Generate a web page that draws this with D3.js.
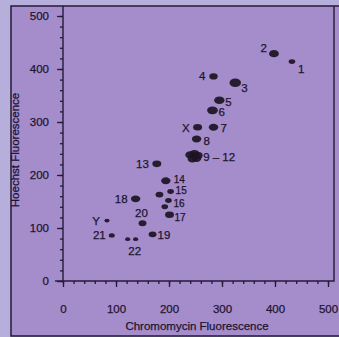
<!DOCTYPE html>
<html>
<head>
<meta charset="utf-8">
<script src="https://cdn.jsdelivr.net/npm/d3@7"></script>
<style>
  html, body { margin: 0; padding: 0; background: #b6afdc; }
  svg { display: block; }
  text { font-family: "Liberation Sans", Arial, sans-serif; fill: #1d1530; stroke: #1d1530; stroke-width: 0.25; }
</style>
</head>
<body>
<div id="viz"></div>
<script>
// flow karyotype peaks: one entry per spot
var peakIds      = ["1", "2", "3", "4", "5", "6", "7", "X", "8",
                    "9-12", "9-12", "9-12", "9-12", "9-12",
                    "13", "14", "15", "15b", "16", "16b", "17", "18",
                    "19", "20", "21", "22", "22b", "Y"];
var chromomycin  = [432, 398, 325, 284, 295, 282, 284, 254, 252,
                    240, 248, 244, 252, 255,
                    177, 194, 203, 182, 199, 192, 201, 137,
                    169, 150, 92, 122, 137, 83];
var hoechst      = [414, 429, 374, 386, 341, 322, 290, 290, 268,
                    238, 240, 230, 231, 237,
                    221, 189, 169, 163, 152, 140, 125, 155,
                    88, 109, 86, 79, 79, 114];
var counts       = [10, 22, 30, 16, 24, 26, 20, 18, 20,
                    22, 24, 20, 20, 18,
                    18, 20, 10, 14, 10, 10, 18, 20,
                    14, 14, 8, 6, 6, 6];

var labelNames = ["1", "2", "3", "4", "5", "6", "7", "X", "8", "9-12",
                  "13", "14", "15", "16", "17", "18", "19", "20", "21", "22", "Y"];
var labelText  = ["1", "2", "3", "4", "5", "6", "7", "X", "8", "9 \u2013 12",
                  "13", "14", "15", "16", "17", "18", "19", "20", "21", "22", "Y"];
var xTicks = [0, 100, 200, 300, 400, 500];
var yTicks = [0, 100, 200, 300, 400, 500];

var W = 339, H = 337;
var svg = d3.select("#viz").append("svg").attr("width", W).attr("height", H);

// page of the book: outer frame
svg.append("rect").attr("x", 11).attr("y", 6).attr("width", 340).attr("height", 330)
   .attr("fill", "#a58cca").attr("stroke", "#241a3a").attr("stroke-width", 1.5);

var x = d3.scaleLinear().domain([0, 500]).range([63, 328]);
var y = d3.scaleLinear().domain([0, 500]).range([281, 16]);

// plot box
svg.append("path")
   .attr("d", "M63,6 L63,281 L334,281 L334,6")
   .attr("fill", "none").attr("stroke", "#241a3a").attr("stroke-width", 1.4);
svg.append("line").attr("x1", 55).attr("x2", 63).attr("y1", y(0)).attr("y2", y(0))
   .attr("stroke", "#241a3a").attr("stroke-width", 1.4);

function styleAxis(g) {
  g.select(".domain").remove();
  g.selectAll(".tick line").attr("stroke", "#241a3a").attr("stroke-width", 1.3);
  g.selectAll("text").attr("font-size", 11.5).attr("fill", "#1d1530");
}

// minor ticks every 20
svg.append("g").attr("transform", "translate(0,281)")
   .call(d3.axisBottom(x).tickValues(d3.range(0, 501, 20)).tickSize(3).tickFormat(""))
   .call(styleAxis);
svg.append("g").attr("transform", "translate(63,0)")
   .call(d3.axisLeft(y).tickValues(d3.range(0, 501, 20)).tickSize(3).tickFormat(""))
   .call(styleAxis);

svg.append("g").attr("transform", "translate(0,281)")
   .call(d3.axisBottom(x).tickValues(xTicks).tickSize(6).tickPadding(18))
   .call(styleAxis);
svg.append("g").attr("transform", "translate(63,0)")
   .call(d3.axisLeft(y).tickValues(yTicks).tickSize(6).tickPadding(6))
   .call(styleAxis)
   .selectAll("text").attr("dx", -2);

svg.append("text").attr("x", 197).attr("y", 330).attr("text-anchor", "middle")
   .attr("font-size", 11.5).text("Chromomycin Fluorescence");
svg.append("text").attr("transform", "translate(19,150) rotate(-90)")
   .attr("text-anchor", "middle").attr("font-size", 11.5).text("Hoechst Fluorescence");

// spots
var r = d3.scaleSqrt().domain([0, 30]).range([0, 5]);
var peaks = peakIds.map(function(id, i) {
  return { id: id, cx: chromomycin[i], cy: hoechst[i], n: counts[i] };
});

svg.append("g").selectAll("ellipse")
   .data(peaks)
   .enter().append("ellipse")
   .attr("cx", function(d) { return x(d.cx); })
   .attr("cy", function(d) { return y(d.cy); })
   .attr("rx", function(d) { return r(d.n) * 1.15; })
   .attr("ry", function(d) { return r(d.n) * 0.85; })
   .attr("fill", "#1b1324")
   .attr("opacity", 0.92);

// label placement relative to its spot: [dx, dy, anchor]
var place = {
  "1": [6, 11, "start"], "2": [-7, -2, "end"], "3": [6, 9, "start"], "4": [-8, 4, "end"],
  "5": [6, 6, "start"], "6": [6, 6, "start"], "7": [7, 5, "start"], "X": [-8, 5, "end"],
  "8": [7, 6, "start"], "9-12": [13, 6, "start"], "13": [-8, 4, "end"], "14": [8, 2, "start"],
  "15": [5, 3, "start"], "16": [5, 7, "start"], "17": [5, 6, "start"], "18": [-8, 4, "end"],
  "19": [5, 5, "start"], "20": [-1, -6, "middle"], "21": [-6, 4, "end"], "22": [7, 16, "middle"],
  "Y": [-7, 4, "end"]
};
var tight = ["14", "15", "16", "17"];

svg.append("g").selectAll("text")
   .data(labelNames)
   .enter().append("text")
   .attr("x", function(d) { var i = peakIds.indexOf(d); return x(chromomycin[i]) + place[d][0]; })
   .attr("y", function(d) { var i = peakIds.indexOf(d); return y(hoechst[i]) + place[d][1]; })
   .attr("text-anchor", function(d) { return place[d][2]; })
   .attr("font-size", function(d) { return tight.indexOf(d) >= 0 ? 10 : 11.5; })
   .text(function(d, i) { return labelText[i]; });
</script>
</body>
</html>
